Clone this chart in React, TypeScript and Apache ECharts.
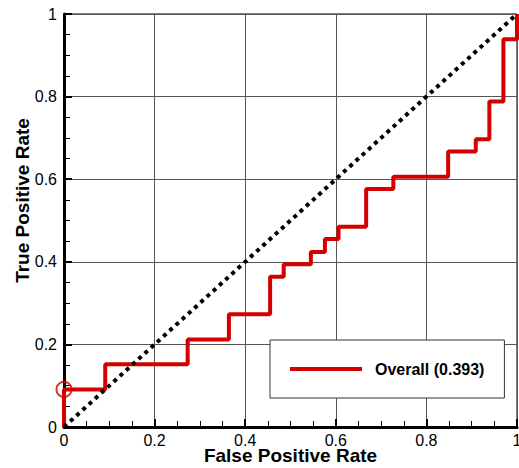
import React, { useEffect, useRef } from "react";
import * as echarts from "echarts";

const fpr = [0, 0, 0.091, 0.273, 0.364, 0.455, 0.485, 0.545, 0.576, 0.606, 0.667, 0.727, 0.848, 0.909, 0.939, 0.97, 1];
const tpr = [0, 0.091, 0.152, 0.212, 0.273, 0.364, 0.394, 0.424, 0.455, 0.485, 0.576, 0.606, 0.667, 0.697, 0.788, 0.939, 1];
const chanceLine = [[0, 0], [1, 1]];
const operatingPoint = [[0, 0.091]];
const seriesName = "Overall (0.393)";
const xName = "False Positive Rate";
const yName = "True Positive Rate";

const FONT = "'Liberation Sans', Arial, Helvetica, sans-serif";
const RED = "#d40000";

export default function App() {
  const ref = useRef<HTMLDivElement>(null);
  useEffect(() => {
    if (!ref.current) return;
    const chart = echarts.init(ref.current, null, { renderer: "svg" });
    const roc = fpr.map((x, i) => [x, tpr[i]]);
    const axisCommon = {
      type: "value",
      min: 0,
      max: 1,
      interval: 0.2,
      axisLine: { show: true, onZero: false, lineStyle: { color: "#000", width: 3 } },
      axisTick: { show: true, inside: true, length: 8, lineStyle: { color: "#000", width: 2 } },
      minorTick: { show: true, splitNumber: 4, length: 6, lineStyle: { color: "#000", width: 1 } },
      splitLine: { show: true, lineStyle: { color: "#555", width: 1 } },
      axisLabel: {
        color: "#000",
        fontFamily: FONT,
        fontSize: 16,
        lineHeight: 14,
        formatter: (v: number) => (v === 0 ? "0" : v === 1 ? "1" : String(Math.round(v * 10) / 10)),
      },
      nameLocation: "middle",
      nameMoveOverlap: false,
      nameTextStyle: { color: "#000", fontFamily: FONT, fontSize: 19, fontWeight: "bold", lineHeight: 16 },
    };
    chart.setOption({
      animation: false,
      backgroundColor: "#fff",
      grid: {
        left: 64,
        right: 2,
        top: 14,
        bottom: 41,
        show: true,
        borderColor: "#000",
        borderWidth: 1,
        backgroundColor: "transparent",
        containLabel: false,
        outerBoundsMode: "none",
      },
      xAxis: {
        ...axisCommon,
        name: xName,
        nameGap: 20,
        axisLabel: { ...axisCommon.axisLabel, margin: 6 },
      },
      yAxis: {
        ...axisCommon,
        name: yName,
        nameGap: 34,
        nameTextStyle: { ...axisCommon.nameTextStyle, padding: [0, 0, 0, 40] },
        axisLabel: { ...axisCommon.axisLabel, margin: 7 },
      },
      legend: {
        show: true,
        left: 270,
        top: 340,
        orient: "horizontal",
        data: [seriesName],
        icon: "rect",
        itemWidth: 72,
        itemHeight: 4,
        padding: [21, 20, 21, 20],
        backgroundColor: "#fff",
        borderColor: "#333",
        borderWidth: 1,
        borderRadius: 0,
        textStyle: {
          color: "#000",
          fontFamily: FONT,
          fontSize: 16,
          fontWeight: "bold",
          padding: [0, 0, 0, 8],
        },
        selectedMode: false,
      },
      series: [
        {
          name: seriesName,
          type: "line",
          data: roc,
          step: "end",
          showSymbol: false,
          symbol: "none",
          clip: false,
          lineStyle: { color: RED, width: 4 },
          itemStyle: { color: RED },
          z: 3,
        },
        {
          name: "chance",
          type: "line",
          data: chanceLine,
          showSymbol: false,
          symbol: "none",
          clip: false,
          lineStyle: { color: "#000", width: 4, type: [4, 4.4], cap: "butt" },
          z: 4,
          silent: true,
        },
        {
          name: "point",
          type: "scatter",
          data: operatingPoint,
          symbol: "circle",
          symbolSize: 15,
          clip: false,
          itemStyle: { color: "transparent", borderColor: RED, borderWidth: 2 },
          z: 5,
          silent: true,
        },
      ],
    });
    return () => chart.dispose();
  }, []);
  return <div ref={ref} style={{ width: 519, height: 468, position: "absolute", left: 0, top: 0 }} />;
}
